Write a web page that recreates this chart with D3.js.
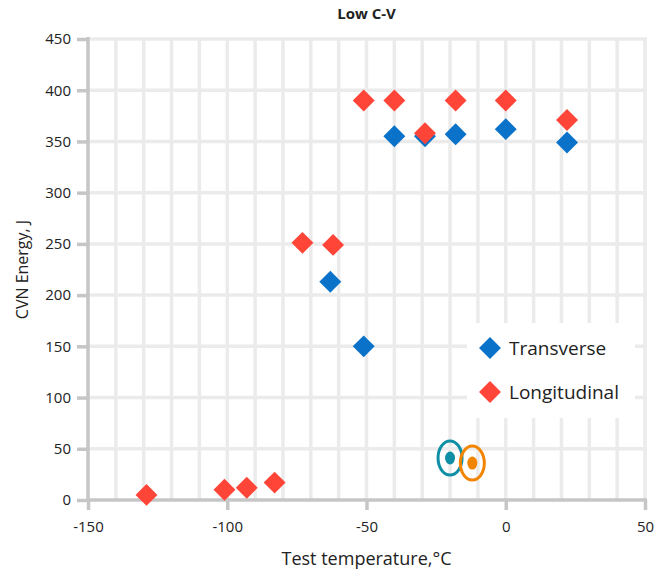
<!DOCTYPE html>
<html>
<head>
<meta charset="utf-8">
<script src="https://cdn.jsdelivr.net/npm/d3@7"></script>
<style>
  body { margin: 0; background: #fff; }
  text { font-family: "Open Sans", "Noto Sans", sans-serif; fill: #222; }
</style>
</head>
<body>
<div id="chart"></div>
<script>
// chart data
var transverseTemp = [-63, -51, -40, -29, -18, 0, 22];
var transverseEnergy = [213, 150, 355, 355, 357, 362, 349];

var longitudinalTemp = [-129, -101, -93, -83, -73, -62, -51, -40, -29, -18, 0, 22];
var longitudinalEnergy = [5, 10, 12, 17, 251, 249, 390, 390, 358, 390, 390, 371];

// the two ringed markers near the bottom
var markerTemp = [-20, -12];
var markerEnergy = [41, 36];
var markerColors = ["#0e8fa6", "#f28500"];

var xTicks = [-150, -100, -50, 0, 50];
var yTicks = [0, 50, 100, 150, 200, 250, 300, 350, 400, 450];
var seriesNames = ["Transverse", "Longitudinal"];
var seriesColors = ["#0a72c8", "#ff4438"];

var svgWidth = 664;
var svgHeight = 574;
var margin = { top: 39, bottom: 74, left: 88, right: 19 };
var width = svgWidth - margin.left - margin.right;
var height = svgHeight - margin.top - margin.bottom;

var svg = d3.select("#chart")
  .append("svg")
  .attr("width", svgWidth)
  .attr("height", svgHeight);

var chartGroup = svg.append("g")
  .attr("transform", `translate(${margin.left}, ${margin.top})`);

var xScale = d3.scaleLinear().domain([-150, 50]).range([0, width]);
var yScale = d3.scaleLinear().domain([0, 450]).range([height, 0]);

// grid lines: vertical every 10, horizontal every 50
chartGroup.append("g")
  .selectAll("line")
  .data(d3.range(-140, 51, 10))
  .enter().append("line")
  .attr("x1", d => xScale(d)).attr("x2", d => xScale(d))
  .attr("y1", 0).attr("y2", height)
  .attr("stroke", "#ebebeb").attr("stroke-width", 3.5);

chartGroup.append("g")
  .selectAll("line")
  .data(yTicks.slice(1))
  .enter().append("line")
  .attr("x1", 0).attr("x2", width + 2)
  .attr("y1", d => yScale(d)).attr("y2", d => yScale(d))
  .attr("stroke", "#ebebeb").attr("stroke-width", 3.5);

// axes (plain hyphen for negatives, like the original)
var bottomAxis = d3.axisBottom(xScale).tickValues(xTicks).tickFormat(d => String(d))
  .tickSize(10).tickPadding(11);
var leftAxis = d3.axisLeft(yScale).tickValues(yTicks).tickFormat(d => String(d))
  .tickSize(11).tickPadding(6);

var xAxisG = chartGroup.append("g")
  .attr("transform", `translate(0, ${height})`)
  .call(bottomAxis);
var yAxisG = chartGroup.append("g").call(leftAxis);

[xAxisG, yAxisG].forEach(function (g) {
  g.select(".domain").attr("stroke", "#c6c6c6").attr("stroke-width", 3.5);
  g.selectAll(".tick line").attr("stroke", "#c6c6c6").attr("stroke-width", 3.5);
  g.selectAll(".tick text")
    .attr("font-family", "'Open Sans', sans-serif")
    .attr("font-size", "15px")
    .attr("fill", "#222");
});
xAxisG.select(".domain").attr("d", `M0,0H${width + 2}`);
yAxisG.select(".domain").attr("d", `M0,${height + 2}V-2`);

// titles
svg.append("text")
  .attr("x", margin.left + xScale(-50))
  .attr("y", 19)
  .attr("text-anchor", "middle")
  .attr("font-size", "15px")
  .attr("font-weight", "bold")
  .text("Low C-V");

svg.append("text")
  .attr("x", margin.left + xScale(-50))
  .attr("y", 565)
  .attr("text-anchor", "middle")
  .attr("font-size", "18px")
  .text("Test temperature,°C");

svg.append("text")
  .attr("transform", `translate(28, ${margin.top + height / 2}) rotate(-90)`)
  .attr("text-anchor", "middle")
  .attr("font-size", "16px")
  .text("CVN Energy, J");

// diamonds
var diamond = d3.symbol().type(d3.symbolSquare).size(240);

function drawSeries(temps, energies, color) {
  chartGroup.append("g")
    .selectAll("path")
    .data(temps.map((t, i) => ({ t: t, e: energies[i] })))
    .enter().append("path")
    .attr("d", diamond)
    .attr("fill", color)
    .attr("transform", d => `translate(${xScale(d.t)}, ${yScale(d.e)}) rotate(45)`);
}
drawSeries(transverseTemp, transverseEnergy, seriesColors[0]);
drawSeries(longitudinalTemp, longitudinalEnergy, seriesColors[1]);

// ringed markers
var markers = chartGroup.append("g")
  .selectAll("g")
  .data(markerTemp.map((t, i) => ({ t: t, e: markerEnergy[i], c: markerColors[i] })))
  .enter().append("g")
  .attr("transform", d => `translate(${xScale(d.t)}, ${yScale(d.e)})`);
markers.append("ellipse")
  .attr("rx", 12).attr("ry", 17)
  .attr("fill", "none")
  .attr("stroke", d => d.c)
  .attr("stroke-width", 3);
markers.append("ellipse")
  .attr("rx", 5).attr("ry", 6.5)
  .attr("fill", d => d.c);

// legend
var legend = svg.append("g");
legend.append("rect")
  .attr("x", 467).attr("y", 323)
  .attr("width", 168).attr("height", 95)
  .attr("fill", "#fff");

var legendItems = legend.selectAll(".item")
  .data(seriesNames)
  .enter().append("g")
  .attr("class", "item")
  .attr("transform", (d, i) => `translate(490, ${348 + i * 44})`);
legendItems.append("path")
  .attr("d", diamond)
  .attr("transform", "rotate(45)")
  .attr("fill", (d, i) => seriesColors[i]);
legendItems.append("text")
  .attr("x", 19)
  .attr("dy", "0.35em")
  .attr("font-size", "19px")
  .text(d => d);
</script>
</body>
</html>
